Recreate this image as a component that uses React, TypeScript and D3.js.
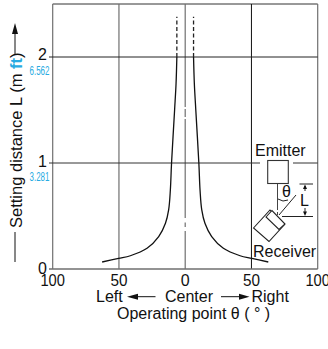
import React from "react";
import * as d3 from "d3";

const thetaRight = [6.3, 6.9, 8, 10.3, 11.2, 12.5, 14.9, 20, 28.8, 41.4, 50.3, 62.7];
const distance = [2.0, 1.75, 1.5, 1.0, 0.745, 0.557, 0.431, 0.305, 0.195, 0.125, 0.1, 0.066];
const dashedTheta = [6.3, 6.3];
const dashedDistance = [2.0, 2.38];
const xTicks = [100, 50, 0, 50, 100];
const xTickPositions = [-100, -50, 0, 50, 100];
const yTicks = [0, 1, 2];
const yFeet = ["", "3.281", "6.562"];

const FONT = "Liberation Sans, Arial, sans-serif";
const FS = 16;

export default function App() {
  const x = d3.scaleLinear().domain([-100, 100]).range([52.7, 317.7]);
  const y = d3.scaleLinear().domain([0, 2]).range([269, 57]);
  const top = 4;
  const line = d3.line<[number, number]>().x(d => x(d[0])).y(d => y(d[1])).curve(d3.curveCatmullRom.alpha(0.5));
  const right = thetaRight.map((t, i) => [t, distance[i]] as [number, number]);
  const left = thetaRight.map((t, i) => [-t, distance[i]] as [number, number]);
  const grey = "#6f6f6f";
  const tickY = [274, 167, 59.5];
  return (
    <svg width={328} height={349} style={{ position: "absolute", left: 0, top: 0 }} fontFamily={FONT}>
      <rect x={0} y={0} width={328} height={349} fill="#fff" />
      {/* grid */}
      <line x1={x(-100)} x2={x(100)} y1={top} y2={top} stroke="#333" strokeWidth={1} />
      <line x1={x(-100)} x2={x(-100)} y1={top} y2={y(0)} stroke={grey} strokeWidth={1.2} />
      <line x1={x(100)} x2={x(100)} y1={top} y2={y(0)} stroke={grey} strokeWidth={1.2} />
      <line x1={x(-50)} x2={x(-50)} y1={top} y2={y(0)} stroke={grey} strokeWidth={1.2} />
      <line x1={x(50)} x2={x(50)} y1={top} y2={y(0)} stroke="#111" strokeWidth={1} />
      <line x1={x(0)} x2={x(0)} y1={top} y2={y(0)} stroke={grey} strokeWidth={1.2} />
      <rect x={x(0) - 1.5} y={107} width={3} height={2} fill="#fff" />
      <rect x={x(0) - 1.5} y={117} width={3} height={2} fill="#fff" />
      <rect x={x(0) - 1.5} y={218} width={3} height={4.5} fill="#fff" />
      <rect x={x(0) - 1.5} y={227} width={3} height={4} fill="#fff" />
      <line x1={49} x2={x(100)} y1={y(2)} y2={y(2)} stroke="#222" strokeWidth={1} />
      <line x1={49} x2={x(100)} y1={y(1)} y2={y(1)} stroke="#333" strokeWidth={1} />
      <line x1={49} x2={x(100)} y1={y(0)} y2={y(0)} stroke={grey} strokeWidth={1.4} />
      <rect x={260} y={159} width={33} height={8} fill="#fff" />
      {/* curves */}
      {[right, left].map((d, i) => <path key={i} d={line(d) ?? ""} fill="none" stroke="#111" strokeWidth={1.3} />)}
      {[1, -1].map(s => (
        <path key={s} d={line(dashedTheta.map((t, i) => [s * t, dashedDistance[i]] as [number, number])) ?? ""} fill="none" stroke="#222" strokeWidth={1.3} strokeDasharray="4 2.5" />
      ))}
      {/* y ticks */}
      {yTicks.map(t => (
        <text key={t} x={47} y={tickY[t]} textAnchor="end" fontSize={FS} fill="#111">{t}</text>
      ))}
      {yFeet.map((t, i) => t && (
        <text key={i} x={49.5} y={y(i) + 18} textAnchor="end" fontSize={13} fill="#29abe2" textLength={20} lengthAdjust="spacingAndGlyphs">{t}</text>
      ))}
      {/* x ticks */}
      {xTicks.map((t, i) => (
        <text key={i} x={x(xTickPositions[i])} y={286} textAnchor="middle" fontSize={FS} fill="#111" textLength={t === 100 ? 24.5 : t === 50 ? 17 : undefined} lengthAdjust="spacingAndGlyphs">{t}</text>
      ))}
      {/* y title */}
      <text transform="translate(22,228) rotate(-90)" fontSize={16.5} fill="#111">Setting distance L (m <tspan fill="#29abe2" fontWeight="bold">ft</tspan>)</text>
      <line x1={15} x2={15} y1={262} y2={232} stroke="#111" strokeWidth={1} />
      <line x1={15} x2={15} y1={55} y2={30} stroke="#111" strokeWidth={1} />
      <path d="M15 23 L12 34 L18 34 Z" fill="#111" />
      {/* x labels */}
      <text x={96} y={302} fontSize={FS} fill="#111">Left</text>
      <line x1={132} x2={155.5} y1={296.7} y2={296.7} stroke="#111" strokeWidth={1} />
      <path d="M127 296.7 L138 293.7 L138 299.7 Z" fill="#111" />
      <text x={165} y={302} fontSize={FS} fill="#111">Center</text>
      <line x1={221} x2={240} y1={296.7} y2={296.7} stroke="#111" strokeWidth={1} />
      <path d="M249.5 296.7 L239 293.7 L239 299.7 Z" fill="#111" />
      <text x={251.5} y={302} fontSize={FS} fill="#111">Right</text>
      <text x={117} y={319} fontSize={FS} fill="#111">Operating point θ ( ° )</text>
      {/* diagram */}
      <text x={255} y={156} fontSize={FS} fill="#111">Emitter</text>
      <rect x={267.7} y={160.5} width={20.6} height={23} fill="#fff" stroke="#333" strokeWidth={1.1} />
      <line x1={277.5} x2={277.5} y1={184} y2={207} stroke="#444" strokeWidth={1} />
      <line x1={277.5} x2={277.5} y1={207} y2={216} stroke="#444" strokeWidth={1} strokeDasharray="3 2" />
      <line x1={296} x2={279} y1={195} y2={215} stroke="#222" strokeWidth={1} />
      <path d="M253.5 228 L270 210 L284.5 224.5 L269 241.5 Z" fill="#fff" stroke="#222" strokeWidth={1.1} />
      <path d="M266 217 L272 210.5 L285 224 L279 229.5 Z" fill="#fff" stroke="#222" strokeWidth={1.1} />
      <path d="M278 199 Q 283 202.5 288 200" fill="none" stroke="#222" strokeWidth={1} />
      <text x={282} y={197} fontSize={FS} fill="#111">θ</text>
      <line x1={299.5} x2={313} y1={184} y2={184} stroke="#222" strokeWidth={1} />
      <line x1={282} x2={313} y1={216.5} y2={216.5} stroke="#222" strokeWidth={1} />
      <text x={300} y={206} fontSize={FS} fill="#111">L</text>
      <line x1={305} x2={305} y1={186} y2={191} stroke="#222" strokeWidth={1} />
      <line x1={305} x2={305} y1={208} y2={214} stroke="#222" strokeWidth={1} />
      <path d="M305 184.5 L303 189 L307 189 Z" fill="#111" />
      <path d="M305 216 L303 211.5 L307 211.5 Z" fill="#111" />
      <text x={253} y={257} fontSize={FS} fill="#111">Receiver</text>
    </svg>
  );
}
